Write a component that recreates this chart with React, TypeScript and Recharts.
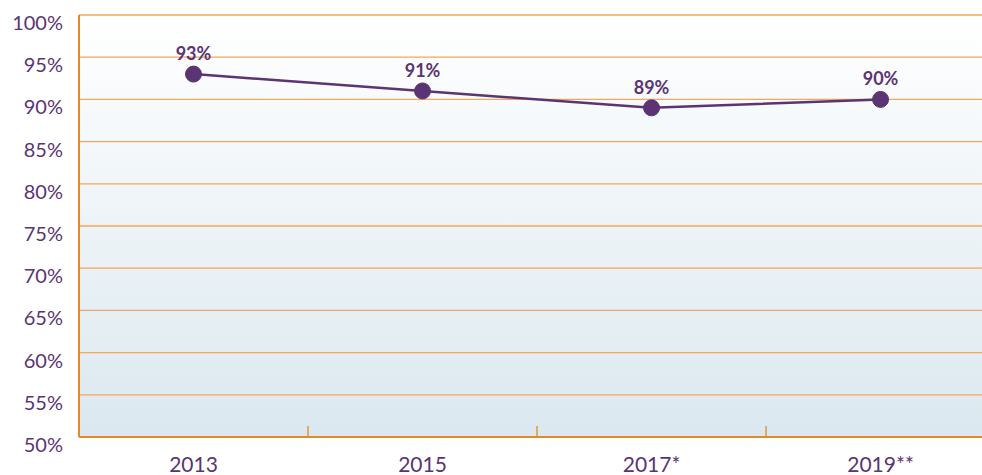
import React from 'react';
import { LineChart, Line, XAxis, YAxis, CartesianGrid, LabelList } from 'recharts';

const years = ['2013', '2015', '2017*', '2019**'];
const shares = [93, 91, 89, 90];
const yTicks = [50, 55, 60, 65, 70, 75, 80, 85, 90, 95, 100];
// year labels sit on whole positions, the small separator ticks halfway between
const xTicks = [0, 0.5, 1, 1.5, 2, 2.5, 3];

const data = years.map((year, i) => ({ idx: i, year, value: shares[i] }));

const PURPLE = '#5b3473';
const GRID = '#efa85c';
const AXIS = '#e28a24';
const FONT = 'Lato, "Open Sans", sans-serif';

// the original plot runs past the right edge of the picture
const X_DOMAIN = [-0.5, 3.443];

if (typeof document !== 'undefined') document.body.style.margin = '0';

const YTick = (props: any) => {
  const { x, y, payload } = props;
  return (
    <text x={x - 16} y={y + 15} textAnchor="end" fill={PURPLE} fontSize={20} fontFamily={FONT}>
      {payload.value}%
    </text>
  );
};

const XTick = (props: any) => {
  const { x, y, payload } = props;
  const v = payload.value;
  if (!Number.isInteger(v)) {
    return <line x1={x} x2={x} y1={y} y2={y - 11} stroke={AXIS} strokeWidth={1.3} />;
  }
  return (
    <text x={x} y={y + 35} textAnchor="middle" fill={PURPLE} fontSize={21} fontFamily={FONT}>
      {years[v]}
    </text>
  );
};

export default function App() {
  return (
    <div style={{ width: 982, height: 475, overflow: 'hidden' }}>
      <LineChart width={982} height={475} data={data} margin={{ top: 15, right: 0, bottom: 8, left: 0 }}>
        <defs>
          <linearGradient id="bgFill" x1="0" y1="0" x2="0" y2="1">
            <stop offset="0%" stopColor="#ffffff" />
            <stop offset="100%" stopColor="#dbe8ef" />
          </linearGradient>
        </defs>
        <CartesianGrid vertical={false} stroke={GRID} strokeWidth={1.3} fill="url(#bgFill)" fillOpacity={1} />
        <XAxis
          type="number"
          dataKey="idx"
          domain={X_DOMAIN}
          ticks={xTicks}
          interval={0}
          tick={<XTick />}
          tickLine={false}
          tickSize={0}
          tickMargin={0}
          axisLine={{ stroke: AXIS, strokeWidth: 2 }}
          height={30}
          allowDataOverflow
        />
        <YAxis
          domain={[50, 100]}
          ticks={yTicks}
          tick={<YTick />}
          tickLine={false}
          tickSize={0}
          tickMargin={0}
          axisLine={{ stroke: AXIS, strokeWidth: 2 }}
          width={79}
          interval={0}
        />
        <Line
          type="linear"
          dataKey="value"
          stroke={PURPLE}
          strokeWidth={2.5}
          dot={{ r: 8, fill: PURPLE, stroke: PURPLE, strokeWidth: 1 }}
          isAnimationActive={false}
        >
          <LabelList
            dataKey="value"
            position="top"
            offset={14}
            formatter={(v: any) => `${v}%`}
            fill={PURPLE}
            fontSize={18}
            fontWeight={700}
            fontFamily={FONT}
          />
        </Line>
      </LineChart>
    </div>
  );
}
